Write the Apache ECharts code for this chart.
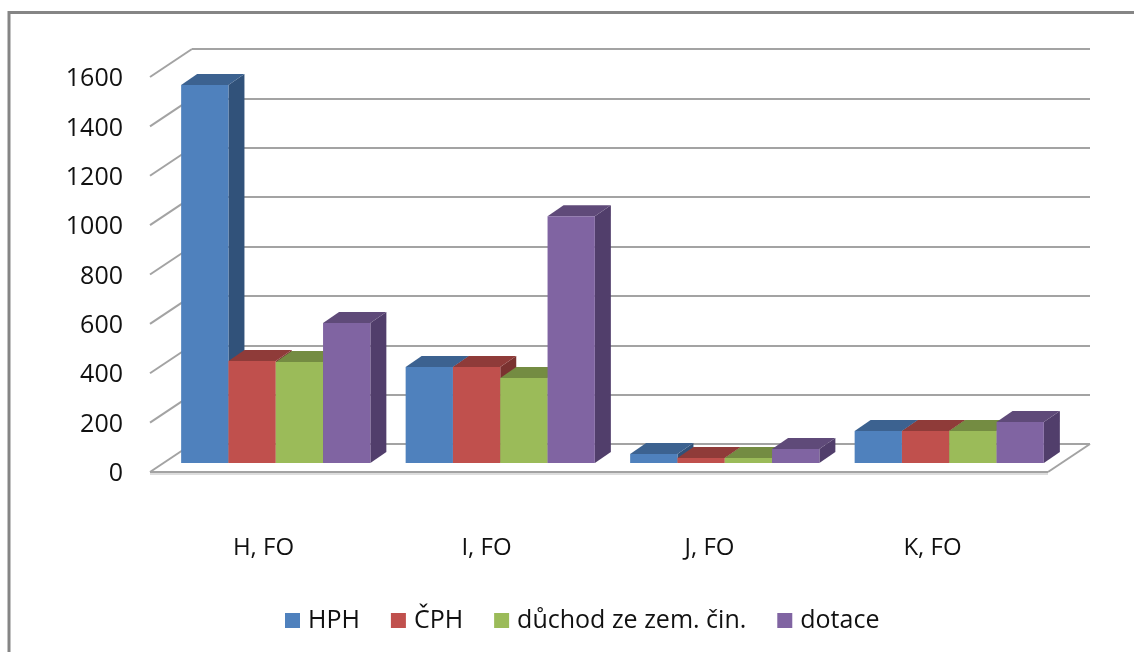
<!DOCTYPE html>
<html><head><meta charset="utf-8">
<style>html,body{margin:0;padding:0;background:#fff}#c{width:1134px;height:652px}</style>
<script src="https://cdn.jsdelivr.net/npm/echarts@6/dist/echarts.min.js"></script>
</head><body><div id="c"></div>
<script>
const categories = ['H, FO', 'I, FO', 'J, FO', 'K, FO'];
const seriesNames = ['HPH', 'ČPH', 'důchod ze zem. čin.', 'dotace'];
const hph = [1531, 389, 36, 130];
const cph = [413, 389, 20, 130];
const duchod = [409, 344, 20, 130];
const dotace = [567, 1000, 57, 166];
const yTicks = [0, 200, 400, 600, 800, 1000, 1200, 1400, 1600];
const frontColors = ['#4F81BD', '#C0504D', '#9BBB59', '#8064A2'];
const topColors = ['#3C6290', '#8F3B39', '#748C42', '#5F4A79'];
const sideColors = ['#31527A', '#7A3230', '#637839', '#513E6B'];

const FONT = '"Open Sans"';
const TXT = '#111';
const WALL_DX = 42, WALL_DY = 28, BAR_DX = 16, BAR_DY = 11, BAR_FRAC = 0.2107;
const allValues = [hph, cph, duchod, dotace];

function barSeries(k) {
  return {
    type: 'custom', name: seriesNames[k], xAxisIndex: 2, yAxisIndex: 2,
    coordinateSystem: 'cartesian2d',
    itemStyle: { color: frontColors[k] },
    encode: { x: 0, y: 1 },
    data: allValues[k].map((v, i) => [i, v]),
    renderItem(params, api) {
      const top = api.coord([api.value(0), api.value(1)]);
      const base = api.coord([api.value(0), 0]);
      const w = api.size([1, 0])[0] * BAR_FRAC;
      const x0 = top[0] + (k - 2) * w, x1 = x0 + w, yT = top[1], yB = base[1];
      const poly = (pts, fill) => ({ type: 'polygon', shape: { points: pts }, style: { fill } });
      return { type: 'group', children: [
        poly([[x1, yT], [x1 + BAR_DX, yT - BAR_DY], [x1 + BAR_DX, yB - BAR_DY], [x1, yB]], sideColors[k]),
        poly([[x0, yT], [x0 + BAR_DX, yT - BAR_DY], [x1 + BAR_DX, yT - BAR_DY], [x1, yT]], topColors[k]),
        poly([[x0, yT], [x1, yT], [x1, yB], [x0, yB]], frontColors[k])
      ] };
    }
  };
}

const wallSeries = {
  type: 'custom', xAxisIndex: 0, yAxisIndex: 0, silent: true, z: 1,
  data: yTicks.map(v => [0, v]),
  renderItem(params, api) {
    const p = api.coord([0, api.value(1)]);
    const left = p[0] - api.size([1, 0])[0] / 2;
    const line = { stroke: '#A3A3A3', lineWidth: 2 };
    const children = [{ type: 'line', shape: { x1: left - WALL_DX, y1: p[1] + WALL_DY, x2: left, y2: p[1] }, style: line }];
    if (api.value(1) === 0) {
      const right = left + api.size([1, 0])[0] * categories.length;
      children.push({ type: 'line', shape: { x1: right - WALL_DX, y1: p[1] + WALL_DY, x2: right, y2: p[1] }, style: line });
      children.push({ type: 'rect', shape: { x: left - WALL_DX, y: p[1] + WALL_DY + 1, width: right - left, height: 2 }, style: { fill: '#DDD' } });
      children.push({ type: 'line', shape: { x1: left - WALL_DX, y1: p[1] + WALL_DY, x2: right - WALL_DX, y2: p[1] + WALL_DY }, style: line });
    }
    return { type: 'group', children };
  }
};

const hiddenX = i => ({ type: 'category', gridIndex: i, data: categories, show: false });
const hiddenY = (i, extra) => Object.assign({ type: 'value', gridIndex: i, min: 0, max: 1600, interval: 200 }, extra);

const chart = echarts.init(document.getElementById('c'), null, { renderer: 'canvas' });
chart.setOption({
  animation: false,
  backgroundColor: '#fff',
  grid: [
    { left: 192, top: 49, width: 898, height: 395 },
    { left: 152, top: 79, width: 892, height: 395 },
    { left: 163.5, top: 68, width: 898, height: 395 }
  ],
  xAxis: [
    hiddenX(0),
    { type: 'category', gridIndex: 1, data: categories,
      axisLine: { show: false }, axisTick: { show: false },
      axisLabel: { margin: 62, color: TXT, fontFamily: FONT, fontSize: 24 } },
    hiddenX(2)
  ],
  yAxis: [
    hiddenY(0, { axisLine: { show: false }, axisTick: { show: false }, axisLabel: { show: false },
      splitLine: { show: true, lineStyle: { color: '#A3A3A3', width: 2 } } }),
    hiddenY(1, { axisLine: { show: false }, axisTick: { show: false }, splitLine: { show: false },
      axisLabel: { margin: 29, color: TXT, fontFamily: FONT, fontSize: 25,
        formatter: v => String(v) } }),
    hiddenY(2, { show: false })
  ],
  legend: {
    left: 285, top: 608, padding: 0, icon: 'rect', itemWidth: 15, itemHeight: 15, itemGap: 31,
    data: seriesNames,
    textStyle: { color: TXT, fontFamily: FONT, fontSize: 25, padding: [0, 0, 0, 3] }
  },
  graphic: [{
    type: 'polyline', silent: true,
    shape: { points: [[9, 652], [9, 12.5], [1134, 12.5]] },
    style: { fill: null, stroke: '#858585', lineWidth: 3 }
  }],
  series: [wallSeries, barSeries(0), barSeries(1), barSeries(2), barSeries(3)]
});
</script></body></html>
